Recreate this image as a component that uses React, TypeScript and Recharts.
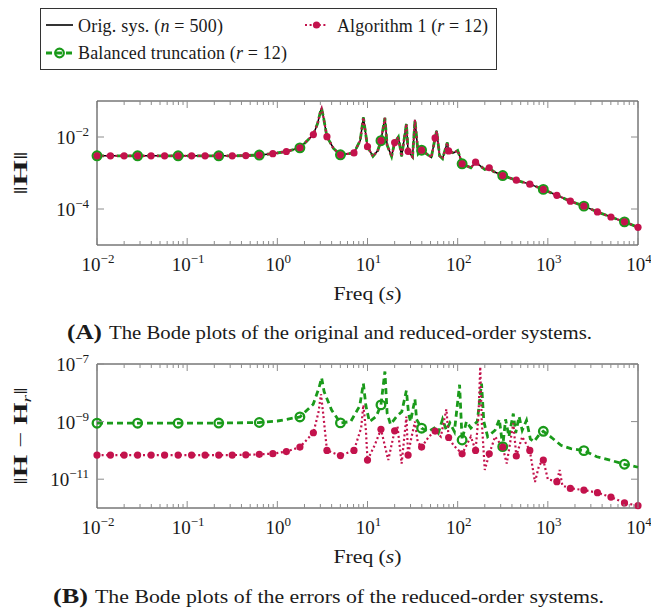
import { ComposedChart, Line, XAxis, YAxis, ReferenceArea, Legend } from "recharts"

const SERIF = '"Liberation Serif", "Times New Roman", serif'
const GREEN = "#1a9a1a"
const RED = "#c3124c"
const FRAME = "#333333"
const TICK = "#8c8c8c"
const INK = "#1a1a1a"

// marker positions (every point for Algorithm 1, every third for balanced truncation)
const algMarkFreq = [0.01, 0.0141, 0.02, 0.0282, 0.0398, 0.0562, 0.0794, 0.112, 0.158, 0.224, 0.316, 0.447, 0.631, 0.891, 1.26, 1.78, 2.51, 3.55, 5.01, 7.08, 10, 14.1, 20, 28.2, 39.8, 56.2, 79.4, 112, 158, 224, 316, 447, 631, 891, 1259, 1778, 2512, 3548, 5012, 7079, 10000]
const btMarkFreq = [0.01, 0.0282, 0.0794, 0.224, 0.631, 1.78, 5.01, 14.1, 39.8, 112, 316, 891, 2512, 7079]

// (A) |H| of the original system (reduced models coincide at this scale)
const bodeFreq = [0.01, 0.0141, 0.02, 0.0282, 0.0398, 0.0562, 0.0794, 0.112, 0.158, 0.224, 0.316, 0.447, 0.631, 0.891, 1.26, 1.78, 2.51, 2.8, 3.0, 3.1, 3.25, 3.55, 4.2, 5.01, 7.08, 8.3, 9.0, 10, 11.5, 13, 14.1, 15.6, 16.5, 18.5, 20, 22, 23.9, 27, 28.2, 31.6, 33.6, 36.5, 39.8, 46, 51, 56.2, 58.5, 63, 68, 76.7, 79.4, 90, 100, 105, 112, 140, 158, 200, 224, 250, 316, 447, 631, 891, 1259, 1778, 2512, 3548, 5012, 7079, 10000]
const bodeMag = [3.0e-3, 3.0e-3, 3.0e-3, 3.0e-3, 3.0e-3, 3.0e-3, 3.0e-3, 3.0e-3, 3.0e-3, 3.0e-3, 3.0e-3, 3.05e-3, 3.15e-3, 3.45e-3, 3.95e-3, 5.0e-3, 1.17e-2, 2.4e-2, 5.0e-2, 6.2e-2, 3.5e-2, 1.02e-2, 4.8e-3, 3.2e-3, 3.6e-3, 8e-3, 3.5e-2, 5.4e-3, 2.9e-3, 4.2e-3, 7.9e-3, 3.4e-2, 6e-3, 2.9e-3, 7e-3, 1.0e-2, 2.9e-3, 2.3e-2, 4.0e-3, 2.8e-3, 3.0e-2, 3.4e-3, 4.3e-3, 3.3e-3, 2.7e-3, 9.4e-3, 1.5e-2, 3.0e-3, 2.5e-3, 7e-3, 4.1e-3, 3.6e-3, 4.2e-3, 3.0e-3, 1.8e-3, 1.4e-3, 2.0e-3, 1.25e-3, 1.4e-3, 1.1e-3, 8.5e-4, 6.3e-4, 4.9e-4, 3.5e-4, 2.4e-4, 1.65e-4, 1.2e-4, 8.3e-5, 6.0e-5, 4.4e-5, 3.1e-5]

// (B) error of balanced truncation
const btErrFreq = [0.01, 0.0282, 0.0794, 0.224, 0.631, 1.0, 1.78, 2.5, 2.9, 3.1, 3.3, 4.0, 5.01, 6.5, 8.2, 9.0, 9.6, 10.5, 12.5, 14.1, 15.6, 16.5, 18, 21, 24, 27, 28.5, 30, 33.6, 35, 39.8, 47, 55, 61, 68, 75, 82, 92, 105, 112, 125, 140, 165, 184, 195, 215, 260, 290, 316, 340, 370, 414, 440, 480, 520, 580, 640, 700, 800, 891, 1100, 1400, 1800, 2512, 3500, 5000, 7079, 10000]
const btErrMag = [8.8e-10, 8.8e-10, 8.8e-10, 8.9e-10, 9.3e-10, 1.05e-9, 1.45e-9, 4e-9, 1.5e-8, 3.3e-8, 1.1e-8, 2.5e-9, 9.0e-10, 1.0e-9, 3.5e-9, 2.1e-8, 3.5e-9, 1.0e-9, 1.5e-9, 3.8e-9, 5.5e-8, 2e-9, 8e-10, 1.5e-9, 2.2e-9, 1.2e-8, 2e-9, 1.0e-9, 6e-9, 1.2e-9, 5.9e-10, 4.5e-10, 6e-10, 4e-10, 1.2e-9, 5e-10, 9e-10, 4.5e-10, 1.9e-8, 2.3e-10, 1.0e-9, 6e-10, 1.0e-9, 2.1e-8, 1.0e-9, 3e-10, 5e-10, 1.2e-9, 1.35e-10, 1.2e-9, 3e-10, 1.9e-9, 4e-10, 1.5e-9, 5e-10, 1.1e-9, 2.5e-10, 2e-10, 3.5e-10, 4.6e-10, 2.8e-10, 1.5e-10, 1.15e-10, 9.8e-11, 6e-11, 4.5e-11, 3.3e-11, 2.6e-11]

// (B) error of Algorithm 1
const algErrFreq = [0.01, 0.0141, 0.02, 0.0282, 0.0398, 0.0562, 0.0794, 0.112, 0.158, 0.224, 0.316, 0.447, 0.631, 0.891, 1.26, 1.78, 2.51, 2.85, 3.05, 3.25, 3.55, 5.01, 7.08, 8.5, 9.0, 9.6, 10, 12, 14.1, 17, 20, 21.5, 23.9, 27, 28.2, 30, 33.6, 36, 39.8, 48, 56.2, 65, 75, 79.4, 90, 112, 140, 158, 170, 178, 185, 200, 224, 260, 316, 350, 414, 447, 520, 631, 720, 800, 891, 1000, 1259, 1350, 1450, 1778, 2512, 3548, 5012, 7079, 10000]
const algErrMag = [6.9e-11, 6.9e-11, 6.9e-11, 6.9e-11, 6.9e-11, 6.9e-11, 6.9e-11, 6.9e-11, 6.9e-11, 6.9e-11, 6.9e-11, 7.0e-11, 7.3e-11, 7.7e-11, 9.1e-11, 1.3e-10, 4.1e-10, 2e-9, 9e-9, 1.5e-9, 1.0e-10, 6.6e-11, 1.0e-10, 6e-10, 3.8e-9, 5e-10, 4.6e-11, 1.5e-10, 5.4e-10, 4.6e-11, 4.8e-10, 7e-10, 3.5e-11, 1.5e-9, 6.9e-11, 2e-10, 1.0e-9, 2e-10, 1.3e-10, 3e-10, 4.7e-10, 3e-10, 2.7e-9, 2.8e-10, 1.5e-10, 7.6e-11, 3e-10, 1.0e-10, 1.5e-9, 8e-8, 1e-9, 2.1e-11, 7.6e-11, 3e-10, 1.3e-10, 3.5e-11, 8.7e-10, 6.4e-11, 3e-10, 1.0e-10, 8e-12, 3e-11, 4.6e-11, 1e-11, 8.2e-12, 2.1e-11, 6e-12, 4.8e-12, 4.2e-12, 3.4e-12, 2.4e-12, 1.5e-12, 1.2e-12]

const freqTicks = [0.01, 0.1, 1, 10, 100, 1000, 10000]
const freqTickExp = ["−2", "−1", "0", "1", "2", "3", "4"]
const minorSteps = [2, 3, 4, 5, 6, 7, 8, 9]
const magTicks = [1e-4, 1e-2]
const magTickExp = ["−4", "−2"]
const errTicks = [1e-11, 1e-9, 1e-7]
const errTickExp = ["−11", "−9", "−7"]

const allFreqTicks = [
  ...freqTicks,
  ...freqTicks.slice(0, -1).flatMap((d) => minorSteps.map((s) => d * s)),
].sort((a, b) => a - b)

const rows = (f: number[], v: number[]) => f.map((x, i) => ({ f: x, v: v[i] }))
const bode = rows(bodeFreq, bodeMag)
const btErr = rows(btErrFreq, btErrMag)
const algErr = rows(algErrFreq, algErrMag)
const algMarks = new Set(algMarkFreq)
const btMarks = new Set(btMarkFreq)

const PLOT_W = 541
const PLOT_H = 144

const btDot = (p: any) =>
  btMarks.has(p.payload.f) ? (
    <circle key={`b${p.index}`} cx={p.cx} cy={p.cy} r={4.3} fill="none" stroke={GREEN} strokeWidth={2.3} />
  ) : (
    <g key={`b${p.index}`} />
  )

const algDot = (p: any) =>
  algMarks.has(p.payload.f) ? (
    <circle key={`a${p.index}`} cx={p.cx} cy={p.cy} r={3.6} fill={RED} />
  ) : (
    <g key={`a${p.index}`} />
  )

const FreqTick = (props: any) => {
  const { x, y, payload } = props
  const i = freqTicks.indexOf(payload.value)
  const len = i >= 0 ? 7 : 4
  return (
    <g>
      <line x1={x} y1={y} x2={x} y2={y - len} stroke={TICK} />
      <line x1={x} y1={y - PLOT_H} x2={x} y2={y - PLOT_H + len} stroke={TICK} />
      {i >= 0 && (
        <text x={x + 1} y={y + 26} textAnchor="middle" fontFamily={SERIF} fontSize={19} fill={INK}>
          10<tspan dy={-8} fontSize={13}>{freqTickExp[i]}</tspan>
        </text>
      )}
    </g>
  )
}

const makeValueTick = (values: number[], exps: string[]) => (props: any) => {
  const { x, y, payload } = props
  const i = values.indexOf(payload.value)
  return (
    <g>
      <line x1={x} y1={y} x2={x + 7} y2={y} stroke={TICK} />
      <line x1={x + PLOT_W} y1={y} x2={x + PLOT_W - 7} y2={y} stroke={TICK} />
      <text x={x - 8} y={y + 7} textAnchor="end" fontFamily={SERIF} fontSize={19} fill={INK}>
        10<tspan dy={-8} fontSize={13}>{exps[i]}</tspan>
      </text>
    </g>
  )
}

const FreqLabel = ({ viewBox }: any) => (
  <text x={viewBox.x + viewBox.width / 2 - 34} y={viewBox.y + 55} fontFamily={SERIF} fontSize={19} fill={INK} textLength={68} lengthAdjust="spacingAndGlyphs">
    Freq (<tspan fontStyle="italic">s</tspan>)
  </text>
)

const MagLabel = ({ viewBox }: any) => (
  <text transform={`translate(27, ${viewBox.y + viewBox.height / 2 + 22}) rotate(-90)`} fontFamily={SERIF} fontSize={19} fill={INK} textLength={44} lengthAdjust="spacingAndGlyphs">
    ‖<tspan fontWeight="bold">H</tspan>‖
  </text>
)

const ErrLabel = ({ viewBox }: any) => (
  <text transform={`translate(27, ${viewBox.y + viewBox.height / 2 + 49}) rotate(-90)`} fontFamily={SERIF} fontSize={19} fill={INK} textLength={98} lengthAdjust="spacingAndGlyphs">
    ‖<tspan fontWeight="bold">H</tspan> − <tspan fontWeight="bold">H</tspan>
    <tspan dy={4} fontSize={13} fontStyle="italic">r</tspan>
    <tspan dy={-4}>‖</tspan>
  </text>
)

const LegendBox = () => (
  <div style={{ width: 457, height: 62, boxSizing: "border-box", border: `1px solid ${FRAME}`, background: "#fff" }}>
    <svg width={455} height={60} style={{ display: "block" }}>
      <line x1={5} y1={16} x2={32} y2={16} stroke="#000" strokeWidth={1.6} />
      <text x={37} y={22.7} fontFamily={SERIF} fontSize={18} fill={INK} textLength={145} lengthAdjust="spacing">
        Orig. sys. (<tspan fontStyle="italic">n</tspan> = 500)
      </text>
      <line x1={264} y1={16} x2={287} y2={16} stroke={RED} strokeWidth={2.2} strokeDasharray="2 2.6" />
      <circle cx={275.5} cy={16} r={3.6} fill={RED} />
      <text x={296} y={22.7} fontFamily={SERIF} fontSize={18} fill={INK} textLength={151} lengthAdjust="spacing">
        Algorithm 1 (<tspan fontStyle="italic">r</tspan> = 12)
      </text>
      <line x1={5} y1={44} x2={32} y2={44} stroke={GREEN} strokeWidth={2.8} strokeDasharray="6 4" />
      <circle cx={18.5} cy={44} r={4.3} fill="none" stroke={GREEN} strokeWidth={2.3} />
      <text x={37} y={50.3} fontFamily={SERIF} fontSize={18} fill={INK} textLength={209} lengthAdjust="spacing">
        Balanced truncation (<tspan fontStyle="italic">r</tspan> = 12)
      </text>
    </svg>
  </div>
)

const freqAxis = (
  <XAxis
    dataKey="f"
    type="number"
    scale="log"
    domain={[0.01, 10000]}
    ticks={allFreqTicks}
    interval={0}
    height={1}
    tickSize={0}
    tickMargin={0}
    tickLine={false}
    axisLine={false}
    tick={(p: any) => <FreqTick {...p} />}
    label={(p: any) => <FreqLabel {...p} />}
  />
)

export default function App() {
  return (
    <div style={{ position: "absolute", left: 0, top: 0, width: 651, height: 608, background: "#fff" }}>
      <div style={{ position: "absolute", left: 0, top: 0 }}>
        <ComposedChart width={651} height={320} margin={{ top: 101, right: 13, bottom: 74, left: 96 }}>
          {freqAxis}
          <YAxis
            type="number"
            scale="log"
            domain={[1e-5, 1e-1]}
            ticks={magTicks}
            interval={0}
            width={1}
            tickSize={0}
            tickMargin={0}
            tickLine={false}
            axisLine={false}
            tick={makeValueTick(magTicks, magTickExp)}
            label={(p: any) => <MagLabel {...p} />}
          />
          <ReferenceArea x1={0.01} x2={10000} y1={1e-5} y2={1e-1} fill="none" stroke={FRAME} strokeWidth={1} ifOverflow="visible" />
          <Line data={bode} dataKey="v" stroke="#000" strokeWidth={1.5} dot={false} isAnimationActive={false} />
          <Line data={bode} dataKey="v" stroke={GREEN} strokeWidth={2.8} strokeDasharray="7 3" dot={btDot} isAnimationActive={false} />
          <Line data={bode} dataKey="v" stroke={RED} strokeWidth={2.2} strokeDasharray="2 2.6" dot={algDot} isAnimationActive={false} />
          <Legend
            layout="horizontal"
            verticalAlign="middle"
            align="center"
            content={<LegendBox />}
            wrapperStyle={{ top: 8, left: 40, width: 457, height: 62 }}
          />
        </ComposedChart>
      </div>
      <div style={{ position: "absolute", left: 0, top: 340 }}>
        <ComposedChart width={651} height={240} margin={{ top: 24, right: 13, bottom: 71, left: 96 }}>
          {freqAxis}
          <YAxis
            type="number"
            scale="log"
            domain={[1e-12, 1e-7]}
            ticks={errTicks}
            interval={0}
            width={1}
            tickSize={0}
            tickMargin={0}
            tickLine={false}
            axisLine={false}
            tick={makeValueTick(errTicks, errTickExp)}
            label={(p: any) => <ErrLabel {...p} />}
          />
          <ReferenceArea x1={0.01} x2={10000} y1={1e-12} y2={1e-7} fill="none" stroke={FRAME} strokeWidth={1} ifOverflow="visible" />
          <Line data={btErr} dataKey="v" stroke={GREEN} strokeWidth={2.8} strokeDasharray="6 4" dot={btDot} isAnimationActive={false} />
          <Line data={algErr} dataKey="v" stroke={RED} strokeWidth={2.2} strokeDasharray="2 2.6" dot={algDot} isAnimationActive={false} />
        </ComposedChart>
      </div>
      <svg width={651} height={608} style={{ position: "absolute", left: 0, top: 0, pointerEvents: "none" }}>
        <text x={67} y={339} fontFamily={SERIF} fontSize={21} fontWeight="bold" fill={INK} textLength={35} lengthAdjust="spacingAndGlyphs">
          (A)
        </text>
        <text x={109} y={339} fontFamily={SERIF} fontSize={18} fill={INK} textLength={483} lengthAdjust="spacingAndGlyphs">
          The Bode plots of the original and reduced-order systems.
        </text>
        <text x={53} y={603} fontFamily={SERIF} fontSize={21} fontWeight="bold" fill={INK} textLength={35} lengthAdjust="spacingAndGlyphs">
          (B)
        </text>
        <text x={95} y={603} fontFamily={SERIF} fontSize={18} fill={INK} textLength={509} lengthAdjust="spacingAndGlyphs">
          The Bode plots of the errors of the reduced-order systems.
        </text>
      </svg>
    </div>
  )
}
